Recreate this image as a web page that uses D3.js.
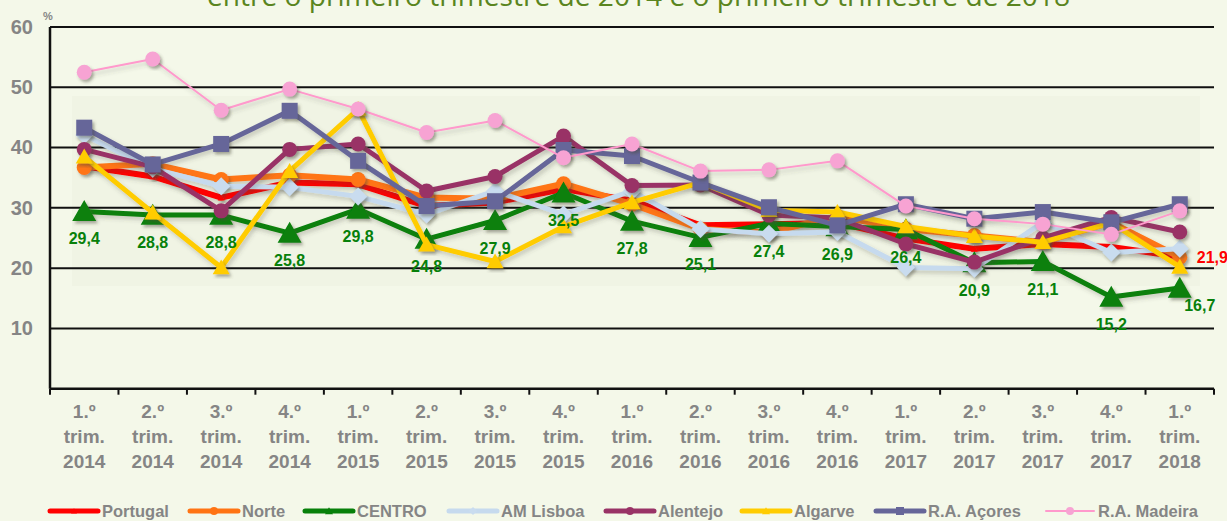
<!DOCTYPE html>
<html>
<head>
<meta charset="utf-8">
<script src="https://cdn.jsdelivr.net/npm/d3@7/dist/d3.min.js"></script>
<style>
  html, body { margin: 0; padding: 0; background: #f4f8e9; }
  svg { display: block; }
</style>
</head>
<body>
<svg id="chart" width="1227" height="521"></svg>
<script>
// Quarters shown on the horizontal axis
const quarters = ["1.º","2.º","3.º","4.º","1.º","2.º","3.º","4.º","1.º","2.º","3.º","4.º","1.º","2.º","3.º","4.º","1.º"];
const years = ["2014","2014","2014","2014","2015","2015","2015","2015","2016","2016","2016","2016","2017","2017","2017","2017","2018"];
const categories = quarters.map((q, i) => q + " trim. " + years[i]);
const yTicks = [10, 20, 30, 40, 50, 60];

// Rates (%) by region
const portugal = [36.9, 35.2, 31.7, 34.2, 33.9, 30.3, 30.9, 33.1, 31.2, 27.1, 27.3, 27.5, 24.9, 23.2, 24.0, 23.5, 21.9];
const norte    = [36.7, 37.3, 34.7, 35.4, 34.7, 31.7, 31.5, 34.0, 30.6, 26.5, 25.9, 28.6, 26.5, 25.4, 24.3, 27.6, 21.8];
const centro   = [29.4, 28.8, 28.8, 25.8, 29.8, 24.8, 27.9, 32.5, 27.8, 25.1, 27.4, 26.9, 26.4, 20.9, 21.1, 15.2, 16.7];
const lisboa   = [42.1, 36.5, 33.6, 33.4, 31.9, 28.9, 32.8, 28.9, 32.8, 26.5, 25.7, 26.0, 20.1, 19.9, 27.6, 22.6, 23.2];
const alentejo = [39.7, 36.8, 29.5, 39.7, 40.6, 32.8, 35.2, 41.9, 33.7, 33.8, 28.8, 28.3, 24.0, 21.0, 25.0, 28.4, 26.0];
const algarve  = [38.5, 29.2, 20.1, 36.1, 46.4, 23.9, 21.1, 26.9, 30.9, 34.2, 29.6, 29.3, 26.9, 25.3, 24.3, 27.5, 20.2];
const acores   = [43.3, 37.2, 40.6, 46.1, 37.8, 30.3, 31.1, 39.6, 38.6, 34.2, 30.1, 27.1, 30.6, 28.2, 29.3, 27.6, 30.6];
const madeira  = [52.5, 54.7, 46.2, 49.7, 46.4, 42.5, 44.5, 38.3, 40.6, 36.1, 36.3, 37.8, 30.3, 28.2, 27.3, 25.6, 29.5];

const seriesNames = ["Portugal", "Norte", "CENTRO", "AM Lisboa", "Alentejo", "Algarve", "R.A. Açores", "R.A. Madeira"];
const seriesValues = [portugal, norte, centro, lisboa, alentejo, algarve, acores, madeira];

const titleText = "entre o primeiro trimestre de 2014 e o primeiro trimestre de 2018";

// Drawing style per series
const styles = [
  { color: "#ff0000", width: 6, shape: "triangle", size: 7,  fill: "#ff0000" },
  { color: "#ff7414", width: 6, shape: "circle",   size: 15, fill: "#ff7414" },
  { color: "#07800a", width: 5, shape: "triangle", size: 24, fill: "#07800a" },
  { color: "#c6daee", width: 5, shape: "diamond",  size: 18, fill: "#c9dcef" },
  { color: "#993366", width: 5, shape: "circle",   size: 15, fill: "#993366" },
  { color: "#ffcc00", width: 5, shape: "triangle", size: 17, fill: "#ffcc00" },
  { color: "#666699", width: 5, shape: "square",   size: 16, fill: "#666699" },
  { color: "#ff99cc", width: 2, shape: "circle",   size: 15, fill: "#f7a3d3" }
];
const legendX = [50, 190, 305, 449, 606, 742, 876, 1046];

(function draw() {
  const svg = d3.select("#chart");
  const pLeft = 50, pRight = 1214, pTop = 27, pBottom = 388.7;

  const x = d3.scaleBand().domain(categories).range([pLeft, pRight]).padding(0);
  const y = d3.scaleLinear().domain([0, 60]).range([pBottom, pTop]);
  const cx = c => x(c) + x.bandwidth() / 2;

  const defs = svg.append("defs");
  const sh = defs.append("filter").attr("id", "shadow")
    .attr("x", "-30%").attr("y", "-30%").attr("width", "160%").attr("height", "160%");
  sh.append("feDropShadow").attr("dx", 2).attr("dy", 2.5).attr("stdDeviation", 1.6)
    .attr("flood-color", "#4a4a3a").attr("flood-opacity", 0.45);
  const shLine = defs.append("filter").attr("id", "lineShadow")
    .attr("x", "-5%").attr("y", "-20%").attr("width", "110%").attr("height", "140%");
  shLine.append("feDropShadow").attr("dx", 2).attr("dy", 3).attr("stdDeviation", 2)
    .attr("flood-color", "#4a4a3a").attr("flood-opacity", 0.25);

  // faint shaded panel behind the lines
  svg.append("rect").attr("x", 72).attr("y", 96).attr("width", 1128).attr("height", 190)
    .attr("fill", "#ecf0e0").attr("opacity", 0.55);

  // title (partly above the top edge)
  svg.append("text")
    .attr("x", 207).attr("y", 6)
    .attr("textLength", 863).attr("lengthAdjust", "spacingAndGlyphs")
    .style("font-family", "'Open Sans', sans-serif")
    .style("font-size", "27px")
    .style("fill", "#5a8520")
    .text(titleText);

  // horizontal gridlines
  svg.append("g").selectAll("line").data(yTicks).join("line")
    .attr("x1", pLeft).attr("x2", pRight)
    .attr("y1", d => y(d)).attr("y2", d => y(d))
    .attr("stroke", "#111").attr("stroke-width", 2);

  // y axis
  const yAxis = svg.append("g").attr("transform", `translate(${pLeft},0)`)
    .call(d3.axisLeft(y).tickValues(yTicks).tickSize(0).tickPadding(17));
  yAxis.select(".domain").attr("stroke", "#111").attr("stroke-width", 2.5)
    .attr("d", `M0,${pTop}V${pBottom}`);
  yAxis.selectAll("text")
    .style("font-family", "'Liberation Sans', Arial, sans-serif")
    .style("font-size", "20px").style("font-weight", "bold").style("fill", "#858585");

  svg.append("text").attr("x", 43).attr("y", 20).text("%")
    .style("font-family", "'Liberation Sans', Arial, sans-serif")
    .style("font-size", "11px").style("font-weight", "bold").style("fill", "#858585");

  // x axis with ticks at category boundaries
  const xAxis = svg.append("g").attr("transform", `translate(0,${pBottom})`)
    .call(d3.axisBottom(x).tickSize(0).tickFormat(""));
  xAxis.select(".domain").attr("stroke", "#111").attr("stroke-width", 2.5)
    .attr("d", `M${pLeft},0H${pRight}`);
  const bounds = categories.map(c => x(c)).concat([pRight]);
  xAxis.append("g").selectAll("line").data(bounds).join("line")
    .attr("x1", d => d).attr("x2", d => d).attr("y1", 0).attr("y2", 6)
    .attr("stroke", "#111").attr("stroke-width", 2);

  const xl = svg.append("g").selectAll("text").data(categories).join("text")
    .attr("x", d => cx(d)).attr("text-anchor", "middle")
    .style("font-family", "'Liberation Sans', Arial, sans-serif")
    .style("font-size", "19px").style("font-weight", "bold").style("fill", "#858585");
  xl.append("tspan").attr("x", d => cx(d)).attr("y", 418).text((d, i) => quarters[i]);
  xl.append("tspan").attr("x", d => cx(d)).attr("y", 443).text("trim.");
  xl.append("tspan").attr("x", d => cx(d)).attr("y", 468).text((d, i) => years[i]);

  // marker path generator
  function markerPath(shape, s) {
    const h = s / 2;
    if (shape === "circle") return d3.symbol(d3.symbolCircle, Math.PI * h * h)();
    if (shape === "square") return `M${-h},${-h}H${h}V${h}H${-h}Z`;
    if (shape === "diamond") return `M0,${-h}L${h},0L0,${h}L${-h},0Z`;
    return `M0,${-h * 0.95}L${h},${h * 0.8}L${-h},${h * 0.8}Z`;
  }

  const line = d3.line().x((d, i) => cx(categories[i])).y(d => y(d));

  seriesValues.forEach((vals, si) => {
    const st = styles[si];
    const g = svg.append("g");
    g.append("path").datum(vals).attr("d", line)
      .attr("fill", "none").attr("stroke", st.color).attr("stroke-width", st.width)
      .attr("stroke-linejoin", "round").attr("filter", "url(#lineShadow)");
    g.selectAll("path.m").data(vals).join("path").attr("class", "m")
      .attr("transform", (d, i) => `translate(${cx(categories[i])},${y(d)})`)
      .attr("d", markerPath(st.shape, st.size))
      .attr("fill", st.fill).attr("filter", "url(#shadow)");
  });

  // value labels for CENTRO
  const lab = svg.append("g")
    .style("font-family", "'Liberation Sans', Arial, sans-serif")
    .style("font-size", "16px").style("font-weight", "bold");
  const fmt = v => d3.format(".1f")(v).replace(".", ",");
  const last = centro.length - 1;
  lab.selectAll("text.c").data(centro).join("text").attr("class", "c")
    .attr("x", (d, i) => cx(categories[i]) + (i === last ? 20 : 0))
    .attr("y", (d, i) => y(d) + (i === last ? 23 : 33))
    .attr("text-anchor", "middle").attr("fill", "#07800a").text(fmt);
  lab.append("text")
    .attr("x", cx(categories[last]) + 17).attr("y", y(portugal[last]) + 6)
    .attr("fill", "#ff0000").text(fmt(portugal[last]));

  // legend
  const leg = svg.append("g").attr("transform", "translate(0,511)");
  seriesNames.forEach((name, si) => {
    const st = styles[si];
    const g = leg.append("g").attr("transform", `translate(${legendX[si]},0)`);
    g.append("line").attr("x1", 0).attr("x2", 48).attr("y1", 0).attr("y2", 0)
      .attr("stroke", st.color).attr("stroke-width", st.width === 2 ? 2 : 5)
      .attr("stroke-linecap", "round");
    g.append("path").attr("transform", "translate(24,0)")
      .attr("d", markerPath(st.shape, si === 0 ? 6 : 8)).attr("fill", st.fill);
    g.append("text").attr("x", 52).attr("y", 6).text(name)
      .style("font-family", "'Liberation Sans', Arial, sans-serif")
      .style("font-size", "16.5px").style("font-weight", "bold").style("fill", "#858585");
  });
})();
</script>
</body>
</html>
